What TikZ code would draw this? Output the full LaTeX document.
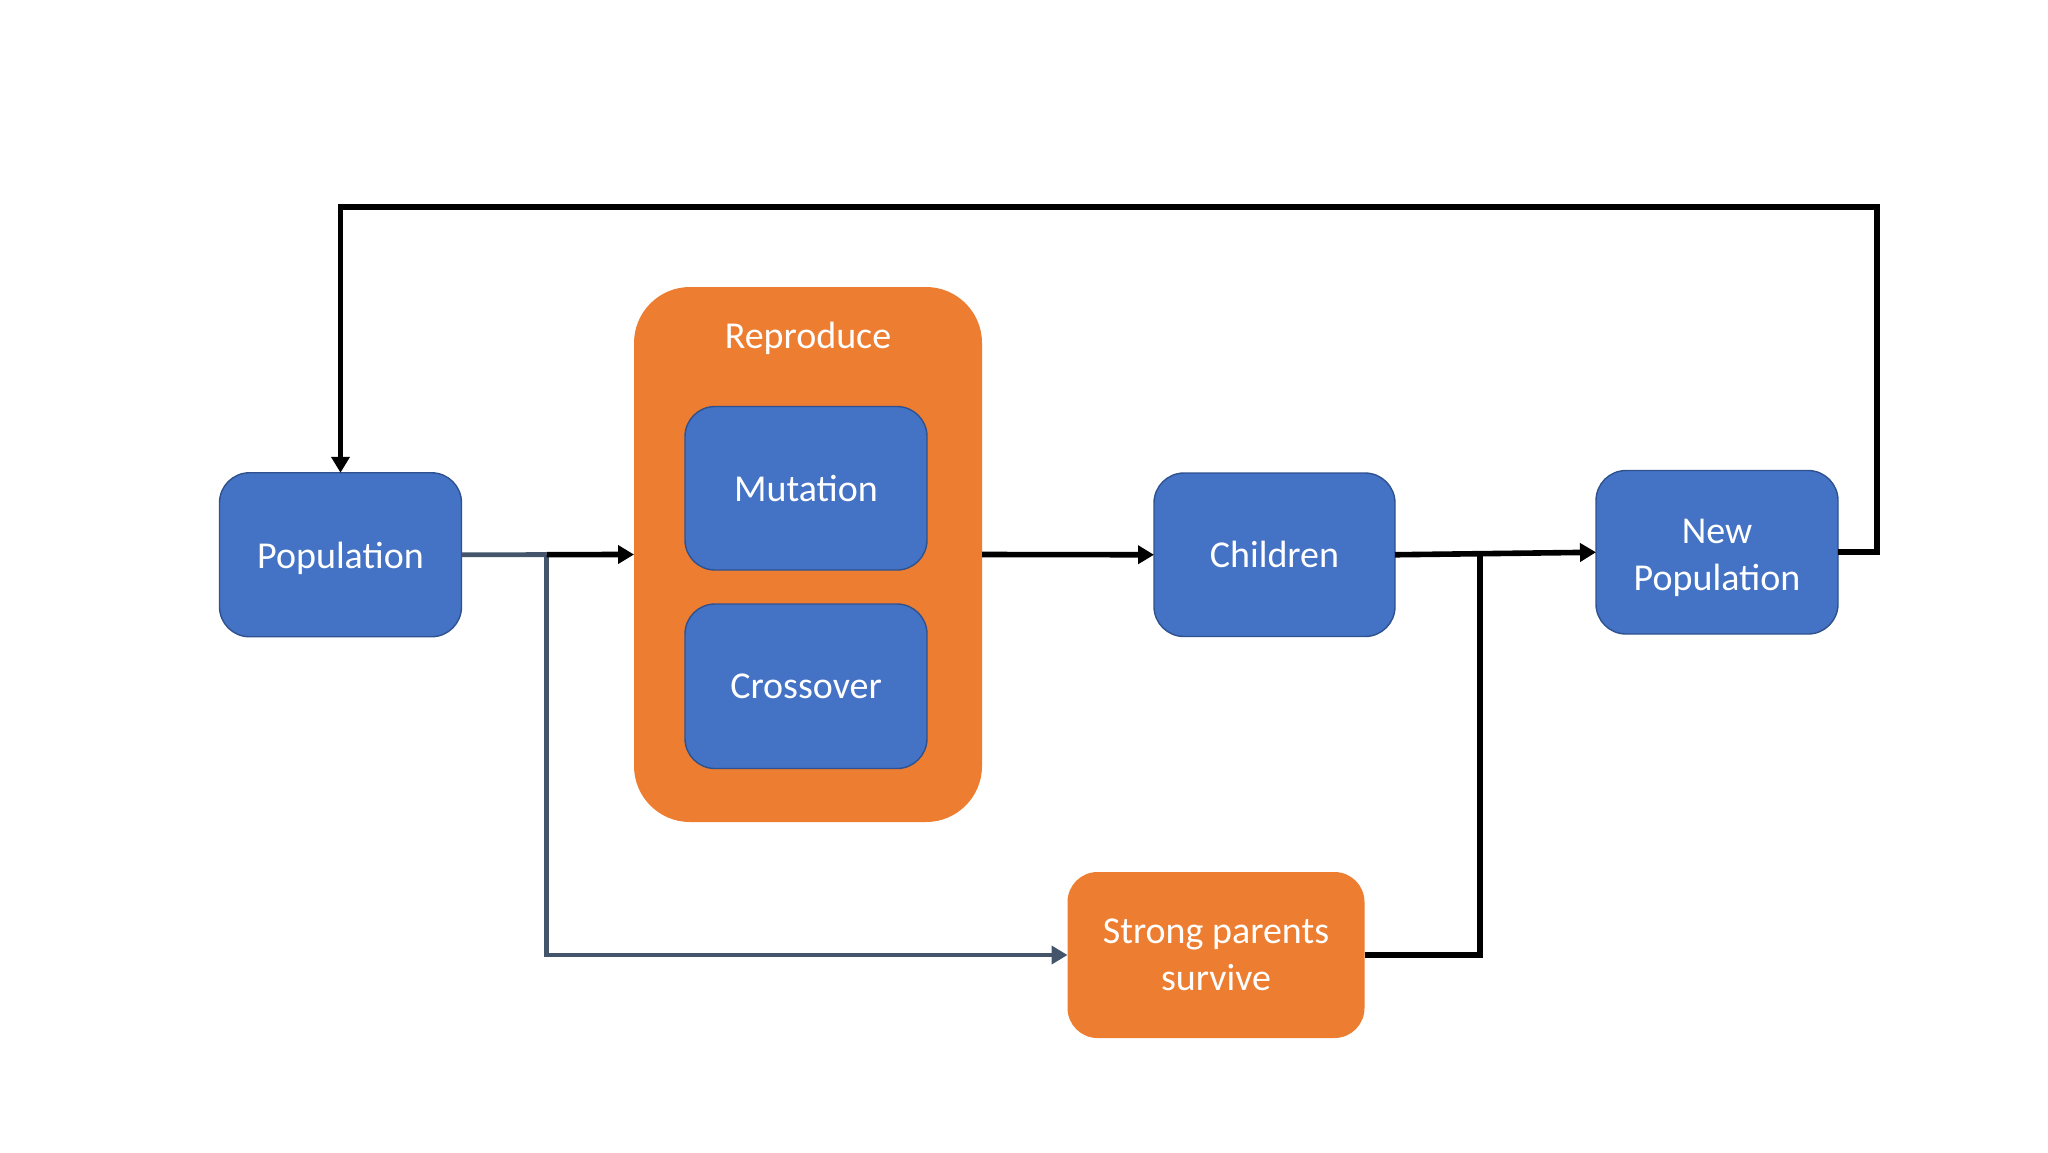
\documentclass[tikz,border=0pt]{standalone}
\usepackage{fontspec}
\setmainfont{Carlito}
\usetikzlibrary{arrows.meta}
\definecolor{gblue}{HTML}{4472C4}
\definecolor{gorange}{HTML}{ED7D31}
\definecolor{gborder}{HTML}{2F528F}
\definecolor{ggray}{HTML}{44546A}
\newcommand{\lowertext}[2]{\raisebox{-#1}[\height][\depth]{#2}}
\tikzset{
  bluebox/.style={draw=gborder, line width=0.7pt, fill=gblue, rounded corners=15pt,
    text=white, align=center, inner sep=0pt, outer sep=0pt,
    font=\fontsize{19}{23.5}\selectfont},
  orangebox/.style={fill=gorange, rounded corners=15pt, text=white, align=center,
    inner sep=0pt, outer sep=0pt, font=\fontsize{19}{23.5}\selectfont},
  blk/.style={draw=black, line width=2.8pt},
  gry/.style={draw=ggray, line width=2.4pt},
  tip/.style={-{Triangle[length=8pt,width=9pt]}}
}
\begin{document}
\begin{tikzpicture}[x=0.5pt,y=-0.5pt]
\useasboundingbox (0,0) rectangle (2048,1152);
% nodes
\node[bluebox, minimum width=121pt, minimum height=82pt] (pop) at (340.5,554.75) {\lowertext{2pt}{Population}};
\node[orangebox, rounded corners=28pt, minimum width=174pt, minimum height=267.5pt] (rep) at (808,554.5) {};
\node[text=white, font=\fontsize{19}{23.5}\selectfont] (replab) at (808,338) {Reproduce};
\node[bluebox, minimum width=121pt, minimum height=81.75pt] (mut) at (806,488.25) {Mutation};
\node[bluebox, minimum width=121pt, minimum height=82.25pt] (cross) at (806,686.25) {Crossover};
\node[bluebox, minimum width=120.5pt, minimum height=81.75pt] (child) at (1274.5,554.75) {Children};
\node[bluebox, minimum width=121pt, minimum height=81.75pt] (newpop) at (1717,552.25) {\lowertext{2.5pt}{\begin{tabular}{@{}c@{}}New\\Population\end{tabular}}};
\node[orangebox, minimum width=148.5pt, minimum height=83pt] (strong) at (1216,955) {Strong parents\\survive};
% coordinates
\coordinate (tr) at (1877,207);
\coordinate (j1) at (546.5,554.6);
\coordinate (j2) at (1480,551.5);
% connectors
\draw[blk, tip] (newpop.east) -| (tr) -| (pop.north);
\draw[gry] (pop.east) -- (j1);
\draw[gry, tip] (j1) |- (strong.west);
\draw[blk, tip] (j1) -- (rep.west);
\draw[blk, tip] (rep.east) -- (child.west);
\draw[blk, tip] (child.east) -- (newpop.west);
\draw[blk] (strong.east) -| (j2);
\end{tikzpicture}
\end{document}
